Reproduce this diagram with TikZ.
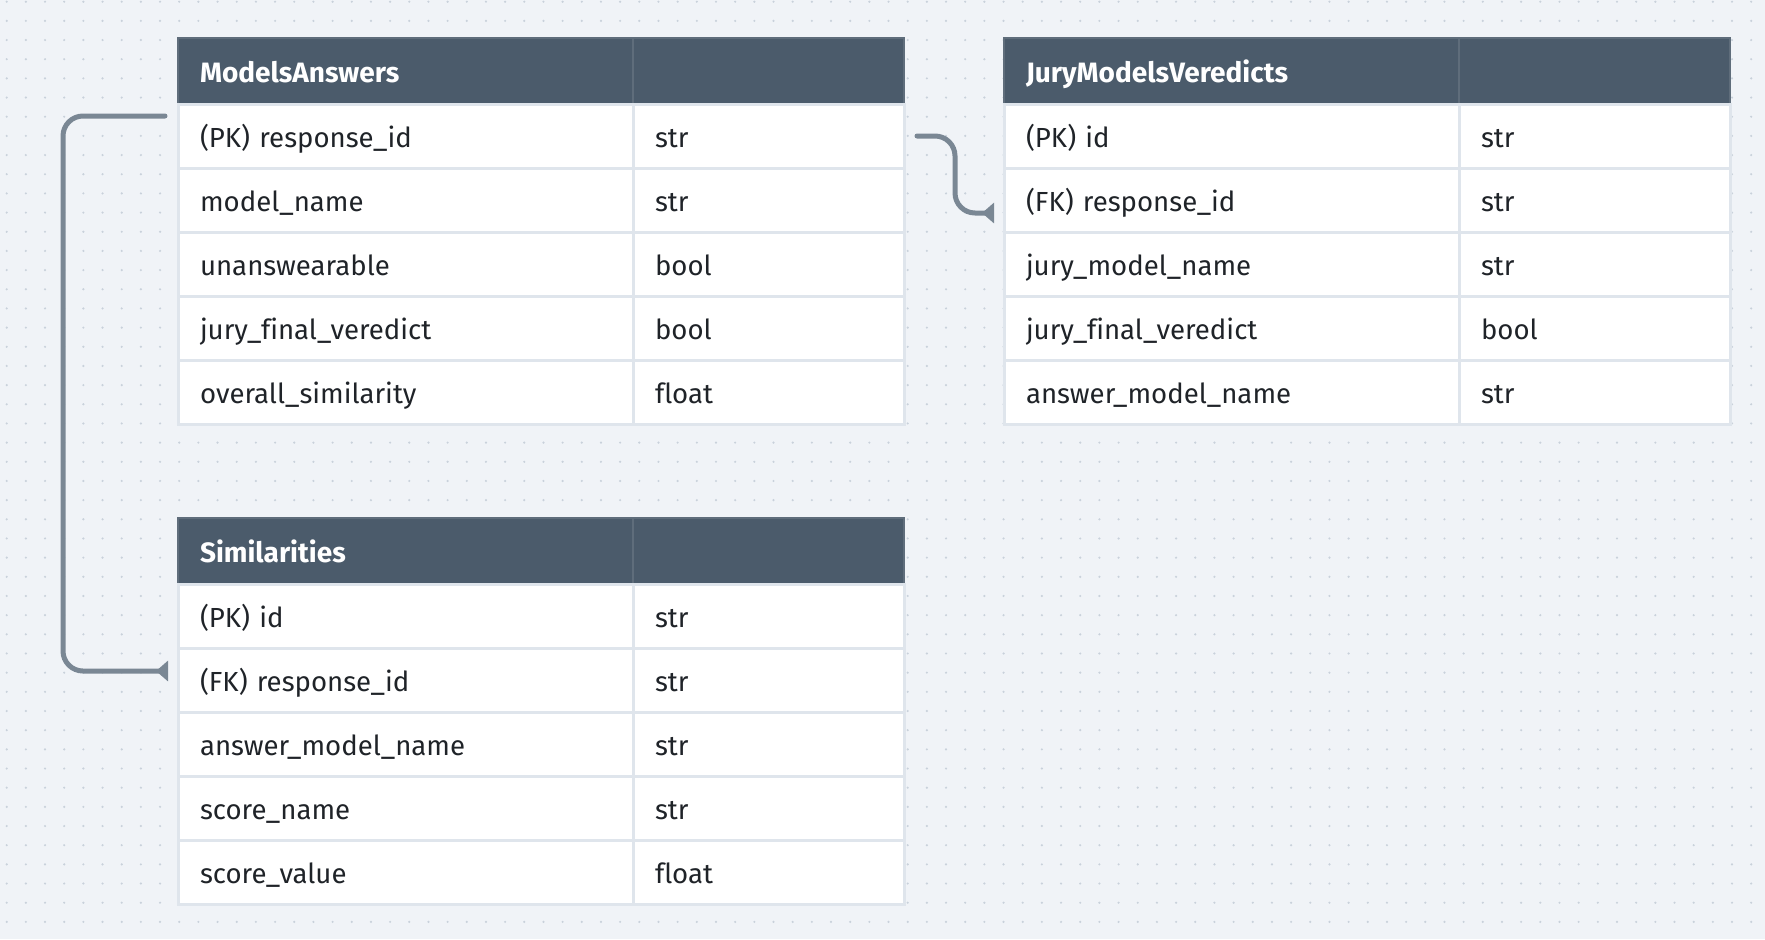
\documentclass[tikz,border=0pt]{standalone}
\usepackage{fontspec}
\setmainfont[Ligatures={NoCommon}]{Fira Sans}
\usetikzlibrary{calc,arrows.meta}
\definecolor{bgc}{HTML}{F0F3F7}
\definecolor{dotc}{HTML}{C9D1DB}
\definecolor{hdrc}{HTML}{4B5B6B}
\definecolor{hdrline}{HTML}{5F6D7B}
\definecolor{rowline}{HTML}{DFE5EC}
\definecolor{txtc}{HTML}{1F2328}
\definecolor{connc}{HTML}{7A8794}
\tikzset{
  cellbase/.style={rectangle, anchor=north west, outer sep=0pt, inner xsep=11pt, inner ysep=0pt, align=left, text height=14pt, text depth=3pt},
  cellA/.style={cellbase, fill=white, draw=rowline, line width=1.5pt, minimum height=32pt, text width=205.5pt, text=txtc, font=\fontsize{13.8pt}{16pt}\selectfont},
  cellB/.style={cellbase, fill=white, draw=rowline, line width=1.5pt, minimum height=32pt, text width=113.5pt, text=txtc, font=\fontsize{13.8pt}{16pt}\selectfont},
  hdrA/.style={cellbase, fill=hdrc, draw=hdrline, line width=1pt, minimum height=33pt, text width=205.5pt, text=white, font=\fontsize{14pt}{16pt}\selectfont\bfseries},
  hdrB/.style={cellbase, fill=hdrc, draw=hdrline, line width=1pt, minimum height=33pt, text width=113.5pt},
  conn/.style={draw=connc, line width=2.5pt, line cap=round, rounded corners=10pt},
  fktip/.style={-{Triangle[reversed,length=6pt,width=10pt]}},
}
\newcommand{\ertbl}[5]{%
  \node[hdrA] (#1-h) at (#2,#3) {#4};
  \node[hdrB] (#1-hb) at (#2+455,#3) {};
  \foreach \a/\b [count=\i] in {#5} {
    \node[cellA] (#1-\i a) at (#2,#3+66+64*\i-64) {\a};
    \node[cellB] (#1-\i b) at (#2+455,#3+66+64*\i-64) {\b};
  }
}
\begin{document}
\begin{tikzpicture}[x=0.5pt,y=-0.5pt]
\fill[bgc] (0,0) rectangle (1765,939);
\useasboundingbox (0,0) rectangle (1765,939);
\foreach \i in {0,...,91} {
  \foreach \j in {0,...,48} {
    \fill[dotc] (6.7+19.17*\i,1.7+19.17*\j) circle (0.6pt);
  }
}
\ertbl{ma}{178}{38}{ModelsAnswers}{(PK) response\_id/str, model\_name/str, unanswearable/bool, jury\_final\_veredict/bool, overall\_similarity/float}
\ertbl{jury}{1004}{38}{JuryModelsVeredicts}{(PK) id/str, (FK) response\_id/str, jury\_model\_name/str, jury\_final\_veredict/bool, answer\_model\_name/str}
\ertbl{sim}{178}{518}{Similarities}{(PK) id/str, (FK) response\_id/str, answer\_model\_name/str, score\_name/str, score\_value/float}
\coordinate (c1s) at ($(ma-1a.west)+(-13,-20)$);
\coordinate (c1e) at ($(sim-2a.west)+(-10,-9)$);
\draw[conn,fktip] (c1s) -- ++(-102,0) |- (c1e);
\coordinate (c2s) at ($(ma-1b.east)+(13,0)$);
\coordinate (c2e) at ($(jury-2a.west)+(-10,13)$);
\draw[conn,fktip] (c2s) -- ++(38,0) |- (c2e);
\end{tikzpicture}
\end{document}
